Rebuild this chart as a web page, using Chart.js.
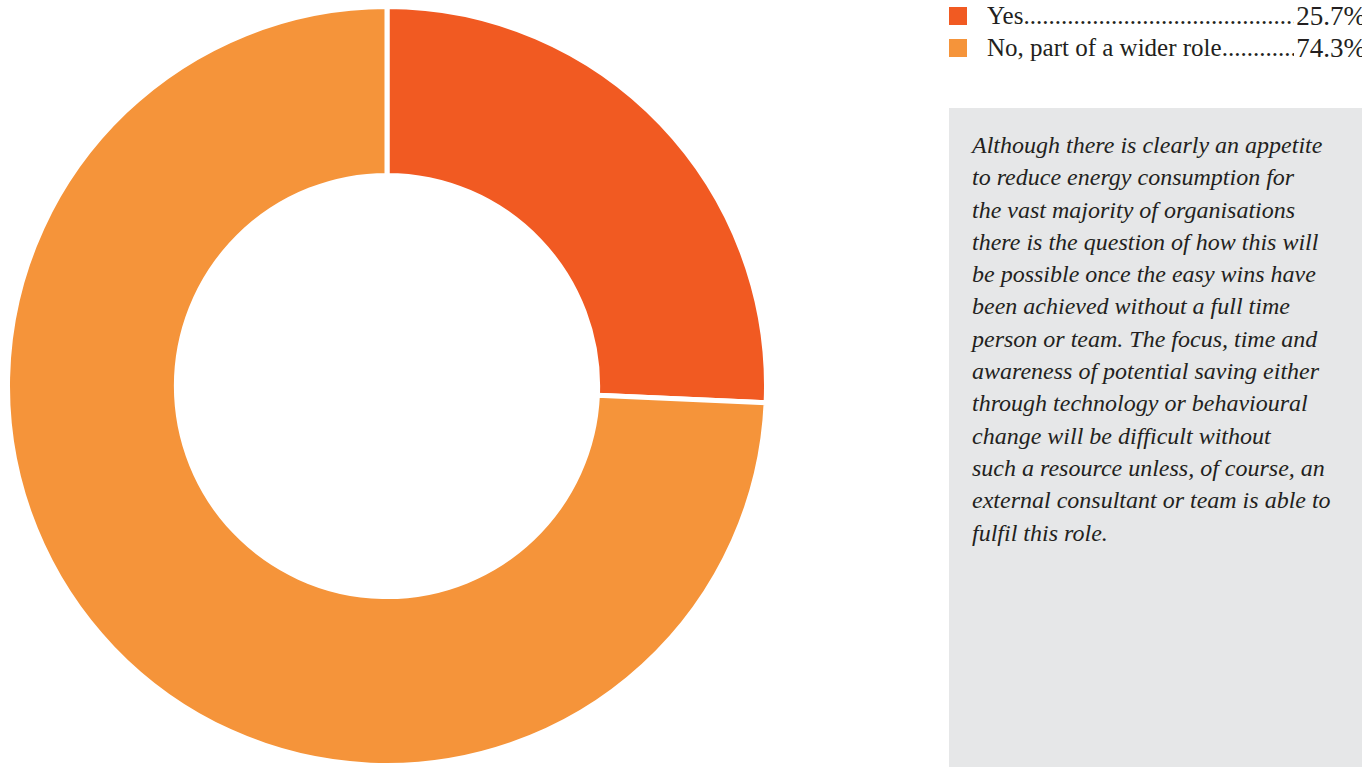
<!DOCTYPE html>
<html>
<head>
<meta charset="utf-8">
<script src="https://cdn.jsdelivr.net/npm/chart.js@4"></script>
<style>
  html, body { margin: 0; padding: 0; background: #fff; width: 1362px; height: 767px; overflow: hidden; }
  #chartBox { position: absolute; left: 5px; top: 4px; width: 764px; height: 764px; }
  #legend { position: absolute; left: 949px; top: 0; width: 413px; font-family: "Liberation Serif", serif; font-size: 25px; color: #231f20; }
  .row { position: relative; height: 32px; line-height: 32px; white-space: nowrap; overflow: hidden; }
  .sw { position: absolute; left: 0; top: 7px; width: 18px; height: 18px; }
  .lab { position: absolute; left: 38px; right: 0; top: 0; overflow: hidden; }
  .pct { position: absolute; right: -4px; top: 0; background: #fff; padding-left: 2px; font-size: 27px; }
  #note { position: absolute; left: 949px; top: 108px; width: 413px; height: 659px; background: #e6e7e8; }
  #note p { margin: 0; position: absolute; left: 23px; top: 21px; font-family: "Liberation Serif", serif; font-style: italic; font-size: 24px; line-height: 32.3px; color: #231f20; white-space: nowrap; }
</style>
</head>
<body>
<div id="chartBox"><canvas id="myChart"></canvas></div>
<div id="legend"></div>
<div id="note"><p id="noteText"></p></div>
<script>
const labels = ['Yes', 'No, part of a wider role'];
const values = [25.7, 74.3];
const colors = ['#f15a22', '#f5943a'];
const noteLines = [
  'Although there is clearly an appetite',
  'to reduce energy consumption for',
  'the vast majority of organisations',
  'there is the question of how this will',
  'be possible once the easy wins have',
  'been achieved without a full time',
  'person or team. The focus, time and',
  'awareness of potential saving either',
  'through technology or behavioural',
  'change will be difficult without',
  'such a resource unless, of course, an',
  'external consultant or team is able to',
  'fulfil this role.'
];

// legend with dotted leaders
var legend = document.getElementById('legend');
labels.forEach(function (l, i) {
  var row = document.createElement('div');
  row.className = 'row';
  row.innerHTML = '<span class="sw" style="background:' + colors[i] + '"></span>' +
    '<span class="lab">' + l + '.'.repeat(120) + '</span>' +
    '<span class="pct">' + values[i].toFixed(1) + '%</span>';
  legend.appendChild(row);
});

document.getElementById('noteText').innerHTML = noteLines.join('<br>');

var ctx = document.getElementById('myChart').getContext('2d');
var myChart = new Chart(ctx, {
  type: 'doughnut',
  data: {
    labels: labels,
    datasets: [{
      data: values,
      backgroundColor: colors,
      borderColor: '#ffffff',
      borderWidth: 5
    }]
  },
  options: {
    responsive: true,
    maintainAspectRatio: false,
    animation: false,
    cutout: '55.5%',
    layout: { padding: 0 },
    plugins: {
      legend: { display: false },
      tooltip: { enabled: false }
    }
  }
});
</script>
</body>
</html>
